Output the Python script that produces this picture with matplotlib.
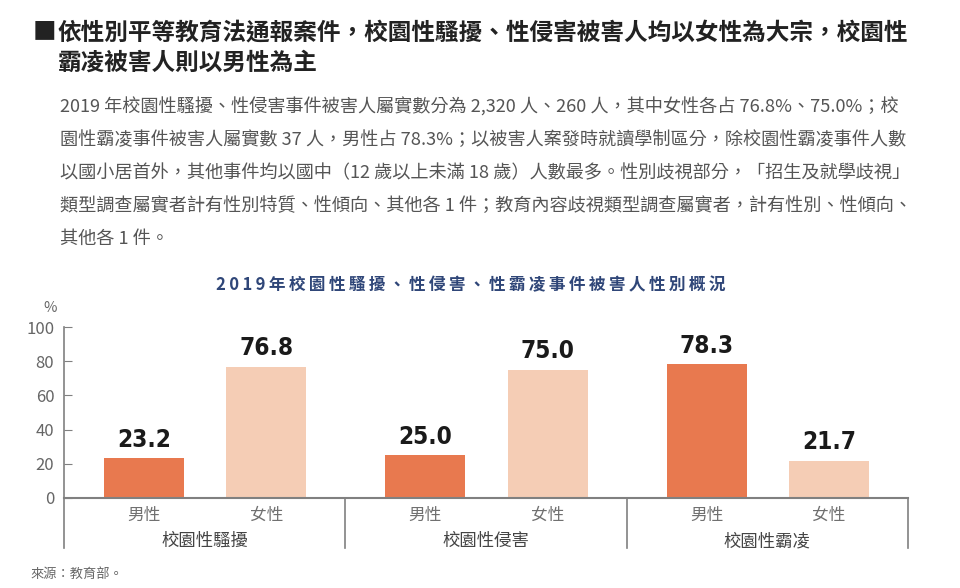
import matplotlib.pyplot as plt
from matplotlib.transforms import blended_transform_factory

plt.rcParams['font.family'] = ['Noto Sans CJK TC', 'DejaVu Sans']

# data
groups = ['校園性騷擾', '校園性侵害', '校園性霸凌']
genders = ['男性', '女性']
male = [23.2, 25.0, 78.3]
female = [76.8, 75.0, 21.7]
yticks = [0, 20, 40, 60, 80, 100]

heading_1 = '依性別平等教育法通報案件，校園性騷擾、性侵害被害人均以女性為大宗，校園性'
heading_2 = '霸凌被害人則以男性為主'
body = [
    '2019 年校園性騷擾、性侵害事件被害人屬實數分為 2,320 人、260 人，其中女性各占 76.8%、75.0%；校',
    '園性霸凌事件被害人屬實數 37 人，男性占 78.3%；以被害人案發時就讀學制區分，除校園性霸凌事件人數',
    '以國小居首外，其他事件均以國中（12 歲以上未滿 18 歲）人數最多。性別歧視部分，「招生及就學歧視」',
    '類型調查屬實者計有性別特質、性傾向、其他各 1 件；教育內容歧視類型調查屬實者，計有性別、性傾向、',
    '其他各 1 件。',
]
chart_title = '2019年校園性騷擾、性侵害、性霸凌事件被害人性別概況'
source = '來源：教育部。'

c_male = '#E8794F'
c_female = '#F5CDB5'
c_axis = '#808080'
c_text = '#555555'

fig = plt.figure(figsize=(9.6, 5.88), dpi=100)
fig.patch.set_facecolor('white')

# heading and body text
fig.text(33 / 960, 1 - 32 / 588, '■', fontsize=17, color='#222222', va='center', ha='left')
fig.text(58 / 960, 1 - 32 / 588, heading_1, fontsize=17, fontweight='bold', color='#222222', va='center')
fig.text(58 / 960, 1 - 63 / 588, heading_2, fontsize=17, fontweight='bold', color='#222222', va='center')
for i, line in enumerate(body):
    fig.text(60 / 960, 1 - (107 + i * 33) / 588, line, fontsize=13.1, color=c_text, va='center')

# letter-spaced chart title
fig.text(471 / 960, 1 - 285 / 588, '\u2009'.join(chart_title), fontsize=12, fontweight='bold',
         color='#2F4678', ha='center', va='center')

ax = fig.add_axes([64 / 960, 1 - 498 / 588, 844 / 960, 171 / 588])
ax.set_xlim(0, 3)
ax.set_ylim(0, 100)

offs = [0.284, 0.719]
width = 0.284
for i in range(len(groups)):
    for j, vals in enumerate([male, female]):
        x = i + offs[j]
        ax.bar(x, vals[i], width=width, color=[c_male, c_female][j], zorder=2)
        ax.text(x, vals[i] + 3.8, f'{vals[i]:.1f}', ha='center', va='bottom',
                fontsize=17.5, fontweight='bold', fontstretch='condensed', color='#1a1a1a',
                family=['DejaVu Sans'])

for s in ['top', 'right']:
    ax.spines[s].set_visible(False)
ax.spines['left'].set_color(c_axis)
ax.spines['bottom'].set_color(c_axis)
ax.spines['left'].set_linewidth(1.2)
ax.spines['bottom'].set_linewidth(1.5)

ax.set_yticks(yticks)
ax.tick_params(axis='y', direction='in', length=6, color=c_axis, labelcolor='#666666',
               labelsize=12, pad=7)
ax.set_xticks([])

# % label
ax.text(-0.05, 111, '%', transform=ax.transData, ha='center', va='center',
        fontsize=10.5, color='#666666', clip_on=False)

# group separators and labels below the axis
trans = blended_transform_factory(ax.transData, ax.transAxes)
bottom_y = -50 / 171
for k in range(len(groups) + 1):
    ax.plot([k, k], [0, bottom_y], transform=trans, color=c_axis, lw=1.2, clip_on=False)
for i, g in enumerate(groups):
    for j, gen in enumerate(genders):
        ax.text(i + offs[j], -17 / 171, gen, transform=trans, ha='center', va='center',
                fontsize=12, color='#707070')
    ax.text(i + 0.5, -43 / 171, g, transform=trans, ha='center', va='center',
            fontsize=12.5, color='#444444')

fig.text(30 / 960, 1 - 574 / 588, source, fontsize=9.5, color='#666666', va='center')

fig.savefig('out.png', dpi=100)
